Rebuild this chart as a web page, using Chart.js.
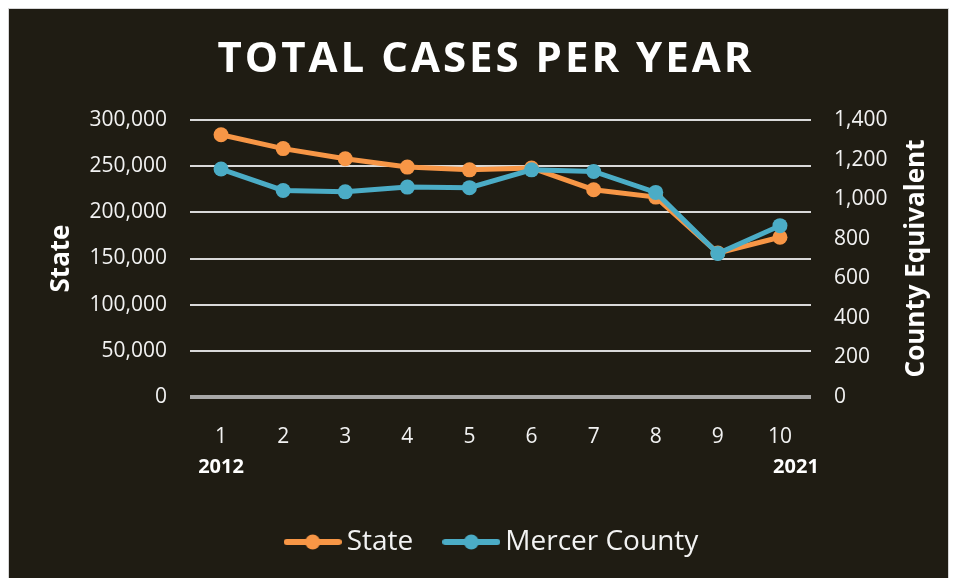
<!DOCTYPE html>
<html>
<head>
<meta charset="utf-8">
<script src="https://cdn.jsdelivr.net/npm/chart.js@4"></script>
<style>
html, body { margin: 0; padding: 0; background: #ffffff; }
#wrap {
    position: absolute; left: 8px; top: 8px;
    width: 939px; height: 569px;
    border: 1px solid #d6d6d6;
    background: #1f1c13;
}
</style>
</head>
<body>
<div id="wrap"><canvas id="casesPerYear" width="939" height="569"></canvas></div>
<script>
//
// Data
var chart_title = 'TOTAL CASES PER YEAR';
var years = ['1', '2', '3', '4', '5', '6', '7', '8', '9', '10'];
var year_labels = ['2012', '2021'];
var state_cases = [284000, 269000, 258000, 249000, 246000, 248000, 224500, 216500, 156000, 173000];
var county_cases = [1152, 1044, 1037, 1061, 1058, 1148, 1140, 1034, 725, 866];
var left_title = 'State';
var right_title = 'County Equivalent';

var orange = '#f79646';
var blue = '#4bacc6';
var white = '#f2f2f2';

//
// Legend marker : line with a dot
function legendMarker(color) {
    var c = document.createElement('canvas');
    c.width = 58;
    c.height = 16;
    var g = c.getContext('2d');
    g.strokeStyle = color;
    g.lineWidth = 6;
    g.lineCap = 'round';
    g.beginPath();
    g.moveTo(3, 8);
    g.lineTo(55, 8);
    g.stroke();
    g.fillStyle = color;
    g.beginPath();
    g.arc(29, 8, 7.5, 0, Math.PI * 2);
    g.fill();
    return c;
}
var markers = [legendMarker(orange), legendMarker(blue)];

//
// Titles and year labels
var chartText = {
    id: 'chartText',
    afterLayout: function(chart) {
        // legend sits a little right of centre in the original
        chart.legend.left += 17;
        chart.legend.right += 17;
    },
    afterDraw: function(chart) {
        var ctx = chart.ctx;
        var area = chart.chartArea;
        var x = chart.scales.x;
        var midY = (area.top + area.bottom) / 2;
        ctx.save();
        ctx.fillStyle = '#ffffff';
        ctx.textAlign = 'center';
        ctx.textBaseline = 'middle';

        ctx.font = 'bold 42px "Open Sans"';
        ctx.letterSpacing = '3px';
        ctx.fillText(chart_title, 477, 51);
        ctx.letterSpacing = '0px';

        ctx.font = 'bold 26px "Open Sans"';
        ctx.save();
        ctx.translate(53, midY);
        ctx.rotate(-Math.PI / 2);
        ctx.fillText(left_title, 0, 0);
        ctx.restore();
        ctx.save();
        ctx.translate(908, midY);
        ctx.rotate(-Math.PI / 2);
        ctx.fillText(right_title, 0, 0);
        ctx.restore();

        ctx.font = 'bold 20px "Open Sans"';
        ctx.fillText(year_labels[0], x.getPixelForValue(0), 458);
        ctx.fillText(year_labels[1], x.getPixelForValue(years.length - 1) + 16, 458);
        ctx.restore();
    }
};

var ctx = document.getElementById('casesPerYear').getContext('2d');
new Chart(ctx, {
    type: 'line',
    data: {
        labels: years,
        datasets: [{
            label: 'State',
            data: state_cases,
            yAxisID: 'y',
            borderColor: orange,
            backgroundColor: orange,
            borderWidth: 5,
            pointRadius: 7.5,
            pointBorderWidth: 0,
            pointBackgroundColor: orange,
            order: 2
        }, {
            label: 'Mercer County',
            data: county_cases,
            yAxisID: 'y1',
            borderColor: blue,
            backgroundColor: blue,
            borderWidth: 5,
            pointRadius: 7.5,
            pointBorderWidth: 0,
            pointBackgroundColor: blue,
            order: 1
        }]
    },
    options: {
        responsive: false,
        animation: false,
        layout: {
            padding: { top: 111, left: 0, right: 0, bottom: 12 }
        },
        elements: {
            line: { tension: 0 }
        },
        scales: {
            x: {
                offset: true,
                grid: { display: false },
                border: { display: false },
                ticks: {
                    color: white,
                    padding: 19,
                    font: { family: 'Open Sans', size: 21 }
                },
                afterFit: function(scale) { scale.height = 93; }
            },
            y: {
                position: 'left',
                min: 0,
                max: 300000,
                border: { display: false },
                grid: {
                    drawTicks: false,
                    color: function(c) { return c.tick.value === 0 ? '#a8a8a8' : '#d9d9d9'; },
                    lineWidth: function(c) { return c.tick.value === 0 ? 4 : 2; }
                },
                ticks: {
                    stepSize: 50000,
                    color: white,
                    padding: 23,
                    font: { family: 'Open Sans', size: 21 },
                    callback: function(v) { return v.toLocaleString('en-US'); }
                },
                afterFit: function(scale) { scale.width = 181; }
            },
            y1: {
                position: 'right',
                min: 0,
                max: 1400,
                border: { display: false },
                grid: { display: false, drawTicks: false },
                ticks: {
                    stepSize: 200,
                    color: white,
                    padding: 23,
                    font: { family: 'Open Sans', size: 21 },
                    callback: function(v) { return v.toLocaleString('en-US'); }
                },
                afterFit: function(scale) { scale.width = 137; }
            }
        },
        plugins: {
            title: { display: false },
            tooltip: { enabled: false },
            legend: {
                display: true,
                position: 'bottom',
                labels: {
                    color: white,
                    usePointStyle: true,
                    pointStyleWidth: 40,
                    padding: 38,
                    font: { family: 'Open Sans', size: 28 },
                    generateLabels: function(chart) {
                        var items = Chart.defaults.plugins.legend.labels.generateLabels(chart);
                        items.sort(function(a, b) { return a.datasetIndex - b.datasetIndex; });
                        items.forEach(function(item) {
                            item.pointStyle = markers[item.datasetIndex];
                        });
                        return items;
                    }
                }
            }
        }
    },
    plugins: [chartText]
});
</script>
</body>
</html>
